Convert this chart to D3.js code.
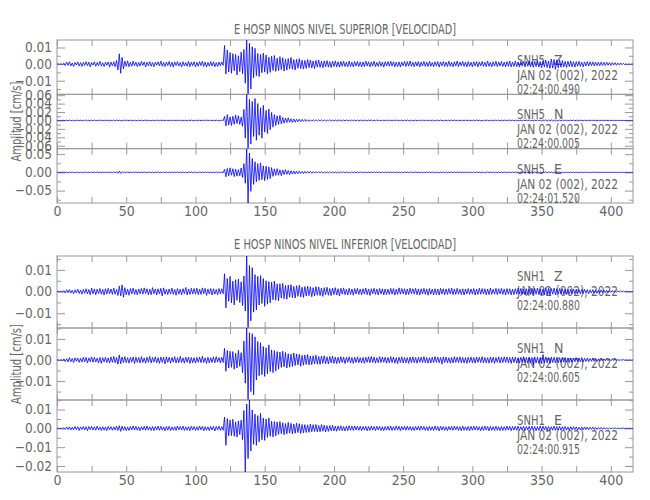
<!DOCTYPE html>
<html><head><meta charset="utf-8">
<script src="https://cdn.jsdelivr.net/npm/d3@7"></script>
<style>
body{margin:0;background:#fff}
svg{display:block}
text{font-family:"Liberation Sans Narrow","DejaVu Sans Condensed","Liberation Sans",sans-serif;fill:#666}
.axis text{font-size:13.5px}
.lab{font-size:14px}
</style>
</head><body>
<svg id="chart" width="650" height="500"></svg>
<script>
// ---- data (amplitudes in units of 1e-4 cm/s, one sample per second) ----
const DT = 1;
const UNIT = 1e-4;
const T_END = 416;
const groupTitles = ["E HOSP NINOS NIVEL SUPERIOR [VELOCIDAD]", "E HOSP NINOS NIVEL INFERIOR [VELOCIDAD]"];
const stations = ["SNH5", "SNH1"];
const components = ["Z", "N", "E"];
const dateLabel = "JAN 02 (002), 2022";
const startTimes = [["02:24:00.490", "02:24:00.005", "02:24:01.520"], ["02:24:00.880", "02:24:00.605", "02:24:00.915"]];
const yTitle = "Amplitud [cm/s]";
const xTickValues = [0, 50, 100, 150, 200, 250, 300, 350, 400];
const xMinorTicks = [25, 75, 125, 175, 225, 275, 325, 375];
const yMajorTicks = [
  [[-0.01, 0, 0.01], [-0.06, -0.04, -0.02, 0, 0.02, 0.04, 0.06], [-0.05, 0, 0.05]],
  [[-0.01, 0, 0.01], [-0.01, 0, 0.01], [-0.02, -0.01, 0, 0.01]]
];
const yMinorTicks = [
  [[-0.015, -0.005, 0.005], [-0.05, -0.03, -0.01, 0.01, 0.03, 0.05], [-0.075, -0.025, 0.025]],
  [[-0.015, -0.005, 0.005, 0.015], [-0.015, -0.005, 0.005, 0.015], [-0.015, -0.005, 0.005, 0.015]]
];

const snh5Z = [
0,1,-1,2,-3,6,-9,12,-8,14,-11,7,-15,10,-6,13,-12,9,-14,11,
-8,15,-10,12,-17,9,-6,14,-13,10,-9,16,-12,8,-15,11,-7,13,-18,12,
-10,14,-16,22,-35,62,-55,40,-28,18,-14,20,-16,11,-13,17,-9,12,-15,10,
-12,16,-8,13,-17,11,-10,15,-13,9,-16,12,-7,14,-11,18,-13,10,-15,12,
-9,16,-14,11,-18,13,-8,15,-12,10,-17,14,-11,9,-13,16,-15,12,-10,14,
-16,11,-13,15,-9,17,-14,12,-18,10,-12,15,-11,13,-16,9,-14,12,-10,13,
-8,112,-60,85,-48,70,-55,62,-40,58,-65,50,-45,72,-58,88,-115,145,-182,125,
-150,104,-82,95,-70,64,-75,58,-52,66,-48,55,-60,42,-50,47,-38,52,-44,36,
-40,45,-33,38,-42,30,-36,34,-28,40,-31,27,-35,29,-25,33,-27,24,-30,22,
-26,28,-21,25,-23,19,-27,22,-18,24,-20,17,-22,19,-16,21,-18,15,-20,17,
-15,19,-17,14,-18,16,-13,17,-15,12,-16,18,-14,11,-17,15,-12,16,-14,13,
-17,12,-15,18,-11,14,-16,13,-12,17,-15,10,-14,16,-13,12,-18,14,-11,15,
-13,17,-12,14,-16,11,-15,13,-17,12,-10,16,-14,15,-12,18,-13,11,-16,14,
-12,15,-17,13,-11,16,-14,12,-15,17,-13,10,-16,14,-12,15,-18,13,-11,16,
-14,12,-15,17,-13,11,-16,14,-12,18,-15,13,-11,16,-14,12,-17,15,-13,11,
-16,14,-12,15,-17,13,-11,16,-14,12,-15,18,-13,11,-16,14,-12,17,-15,13,
-11,16,-14,12,-17,15,-13,18,-16,12,-14,17,-15,13,-18,16,-12,14,-17,15,
-13,18,-16,14,-19,17,-15,20,-18,16,-22,19,-17,24,-21,18,-26,30,-24,28,
-32,26,-22,25,-19,21,-18,16,-20,17,-15,19,-16,14,-18,15,-13,17,-14,12,
-16,13,-11,15,-12,14,-10,13,-11,12,-9,11,-10,12,-8,10,-9,11,-7,9,
-8,9,-6,8,-7,6,-5,7,-4,5,-4,3,-3,2,-2,1,0
];
const snh5N = [
0,1,-1,2,-2,4,-6,5,-7,8,-5,6,-9,7,-4,8,-6,5,-8,7,
-9,12,-7,6,-10,8,-5,9,-7,6,-8,10,-6,5,-9,7,-6,8,-10,6,
-7,9,-5,8,-6,7,-9,6,-8,10,-7,5,-6,9,-8,7,-5,6,-9,8,
-6,7,-10,8,-5,9,-7,6,-8,5,-9,7,-6,10,-7,8,-5,6,-9,7,
-8,6,-7,9,-5,8,-10,7,-6,9,-8,5,-7,6,-9,8,-6,10,-7,5,
-8,7,-9,6,-5,8,-7,10,-6,9,-8,7,-5,6,-9,8,-7,6,-10,8,
-6,95,-130,140,-110,85,-120,100,-90,130,-75,110,-95,80,-140,260,-420,620,-670,500,
-560,450,-380,520,-470,400,-350,300,-420,360,-280,240,-310,270,-220,190,-160,140,-120,110,
-95,120,-80,70,-65,58,-50,62,-45,40,-48,36,-42,30,-35,28,-32,25,-22,24,
-20,18,-22,16,-19,17,-15,18,-14,16,-13,15,-17,12,-14,13,-11,15,-12,10,
-13,11,-10,12,-9,11,-13,10,-8,12,-11,9,-10,13,-9,8,-12,10,-11,9,
-8,10,-7,9,-11,8,-6,10,-9,7,-8,11,-7,6,-10,9,-8,7,-9,10,
-7,8,-10,6,-9,11,-8,7,-6,9,-10,8,-7,10,-6,8,-9,7,-11,8,
-9,7,-8,10,-6,9,-7,8,-10,6,-8,9,-11,7,-6,10,-8,9,-7,6,
-10,8,-7,9,-8,11,-6,7,-9,8,-10,6,-7,9,-8,10,-6,8,-9,7,
-8,9,-6,10,-7,8,-9,7,-11,9,-6,8,-10,7,-8,9,-7,10,-6,8,
-9,7,-10,8,-6,9,-8,11,-7,6,-9,8,-10,7,-8,6,-11,9,-7,8,
-6,10,-8,7,-9,8,-7,12,-10,9,-13,11,-9,14,-12,10,-11,13,-9,12,
-14,10,-12,9,-11,10,-8,9,-10,7,-9,8,-7,9,-8,6,-7,8,-6,7,
-8,6,-7,5,-6,7,-5,6,-4,5,-6,4,-5,6,-4,5,-3,4,-5,3,
-4,3,-3,4,-2,3,-2,2,-3,1,-2,2,-1,1,-1,1,0
];
const snh5E = [
0,1,-1,2,-3,5,-7,6,-9,8,-6,10,-8,7,-11,9,-7,8,-10,6,
-9,11,-8,7,-12,9,-6,10,-8,12,-9,7,-11,8,-10,9,-7,11,-9,8,
-10,12,-9,18,-28,35,-30,22,-15,12,-10,9,-12,8,-11,10,-7,9,-12,8,
-9,11,-7,10,-12,8,-9,11,-8,10,-13,9,-7,12,-10,8,-11,9,-8,10,
-12,9,-8,11,-10,7,-9,12,-11,8,-10,13,-9,7,-11,10,-8,12,-9,11,
-10,8,-12,9,-7,11,-10,13,-8,9,-11,10,-12,8,-9,11,-13,10,-8,9,
-11,85,-120,110,-95,125,-80,100,-115,90,-105,75,-95,120,-140,240,-300,650,-840,530,
-520,380,-330,290,-260,240,-220,260,-200,180,-230,170,-190,150,-170,130,-110,95,-85,100,
-80,70,-90,65,-60,75,-55,50,-62,45,-48,40,-44,36,-38,32,-30,28,-33,26,
-24,27,-21,23,-25,19,-22,20,-18,21,-17,19,-20,16,-18,17,-15,18,-16,14,
-15,13,-16,12,-14,15,-12,13,-11,14,-13,10,-12,13,-11,12,-14,10,-12,11,
-10,12,-9,11,-13,8,-11,10,-9,12,-8,11,-10,9,-12,10,-8,11,-9,12,
-11,9,-10,12,-8,11,-13,9,-10,8,-11,12,-9,10,-8,11,-12,9,-10,11,
-9,10,-12,8,-11,9,-10,12,-8,11,-9,10,-13,9,-11,8,-10,12,-9,10,
-12,11,-9,10,-8,12,-11,9,-10,13,-9,8,-11,10,-12,9,-8,11,-10,9,
-10,12,-8,11,-9,10,-12,9,-11,8,-10,12,-9,11,-8,10,-13,9,-11,10,
-9,11,-10,8,-12,10,-9,11,-8,12,-10,9,-11,10,-9,12,-8,11,-10,9,
-11,10,-9,12,-10,11,-8,13,-11,12,-14,10,-12,15,-11,13,-10,12,-11,10,
-13,11,-10,12,-9,10,-11,9,-10,8,-9,10,-8,9,-7,8,-9,7,-8,7,
-6,8,-7,6,-7,5,-6,7,-5,6,-5,4,-6,5,-4,5,-4,3,-4,3,
-3,4,-2,3,-3,2,-2,2,-1,2,-1,1,-1,1,-1,0,0
];
const snh1Z = [
0,1,-1,2,-2,4,-6,8,-5,9,-7,6,-10,8,-6,11,-9,7,-12,10,
-8,13,-11,9,-14,16,-10,12,-15,11,-9,14,-12,10,-16,13,-11,15,-10,12,
-13,16,-12,10,-18,25,-20,31,-26,18,-15,12,-17,14,-11,16,-13,10,-15,12,
-10,14,-12,17,-9,13,-15,11,-14,18,-10,12,-16,13,-11,15,-20,17,-12,10,
-14,12,-11,16,-13,10,-17,14,-12,11,-15,13,-10,19,-16,12,-13,15,-11,14,
-12,16,-14,11,-13,17,-10,15,-18,12,-11,14,-16,13,-12,10,-15,14,-11,13,
-10,82,-75,60,-45,70,-52,48,-62,55,-40,58,-50,45,-65,72,-90,164,-168,120,
-135,110,-95,78,-85,70,-62,74,-55,60,-68,50,-58,46,-52,44,-38,48,-40,35,
-42,36,-30,38,-33,28,-35,30,-26,32,-28,24,-30,27,-22,29,-25,20,-27,23,
-21,25,-19,22,-24,18,-20,23,-17,21,-19,16,-22,18,-15,20,-17,14,-19,16,
-14,18,-16,13,-20,15,-12,17,-14,11,-16,15,-13,12,-17,14,-11,15,-13,12,
-15,13,-11,16,-14,12,-18,13,-10,15,-13,12,-16,14,-11,13,-15,12,-14,11,
-13,15,-12,14,-16,11,-13,17,-12,14,-11,13,-15,12,-14,16,-10,13,-12,15,
-14,12,-16,13,-11,15,-13,12,-17,14,-12,11,-15,13,-14,12,-16,15,-11,13,
-15,12,-13,14,-11,16,-14,12,-13,15,-12,11,-14,13,-16,12,-11,14,-13,12,
-12,14,-16,11,-13,15,-12,14,-11,13,-15,12,-14,16,-13,11,-12,15,-14,13,
-11,15,-13,12,-16,14,-12,13,-15,11,-14,13,-12,15,-11,14,-13,12,-16,13,
-14,12,-13,15,-11,14,-12,16,-14,13,-15,12,-16,18,-13,15,-17,14,-12,16,
-15,13,-12,14,-11,13,-12,11,-13,10,-12,11,-10,12,-9,11,-10,9,-11,10,
-9,10,-8,9,-10,8,-7,9,-8,7,-8,6,-7,8,-6,7,-5,6,-5,4,
-4,5,-3,4,-3,3,-2,3,-2,2,-1,2,-1,1,-1,0,0
];
const snh1N = [
0,1,-1,2,-3,5,-7,6,-9,11,-8,7,-12,10,-6,9,-11,8,-10,13,
-9,12,-14,10,-8,15,-11,13,-10,9,-14,12,-16,11,-9,13,-12,10,-15,14,
-11,17,-13,12,-20,24,-18,14,-12,16,-13,11,-15,12,-10,14,-17,13,-11,12,
-14,16,-12,10,-15,13,-11,17,-14,12,-10,15,-13,11,-16,14,-12,13,-18,15,
-11,13,-15,12,-10,16,-14,11,-13,17,-12,10,-15,13,-11,14,-16,12,-13,11,
-15,12,-11,14,-13,18,-12,10,-16,13,-14,11,-12,15,-13,16,-10,12,-14,13,
-12,55,-53,45,-38,42,-35,40,-44,32,-38,46,-30,35,-60,90,-110,152,-190,130,
-150,125,-165,110,-95,88,-75,82,-70,64,-78,58,-66,72,-55,48,-60,45,-52,40,
-44,38,-35,42,-32,36,-38,30,-34,28,-31,33,-26,29,-24,27,-30,22,-25,24,
-21,26,-23,19,-22,20,-18,23,-20,17,-21,19,-16,20,-18,15,-19,17,-14,18,
-16,14,-17,13,-15,16,-12,14,-17,13,-11,15,-14,12,-16,13,-12,15,-13,11,
-14,12,-16,13,-11,15,-13,17,-12,14,-15,11,-13,16,-12,14,-11,13,-15,12,
-13,16,-12,14,-15,11,-17,13,-12,15,-14,12,-13,11,-16,14,-12,15,-13,12,
-15,13,-11,14,-12,16,-13,12,-15,11,-14,13,-12,16,-11,14,-13,12,-20,15,
-12,14,-13,11,-15,12,-14,16,-11,13,-12,15,-13,12,-14,11,-16,13,-12,14,
-13,12,-15,14,-11,13,-12,16,-14,12,-13,11,-15,14,-12,13,-16,12,-11,15,
-14,13,-12,15,-11,14,-13,12,-16,14,-12,13,-15,11,-14,13,-12,16,-13,12,
-15,14,-13,12,-22,15,-14,13,-16,12,-17,26,-14,15,-13,12,-16,14,-12,13,
-14,12,-13,11,-12,13,-10,12,-11,10,-12,9,-11,10,-9,11,-8,10,-9,8,
-9,8,-7,9,-8,7,-6,8,-7,6,-6,5,-6,5,-4,5,-4,4,-3,4,
-3,3,-2,3,-2,2,-2,1,-1,2,-1,1,-1,1,0,0,0
];
const snh1E = [
0,1,-1,1,-2,4,-5,7,-6,8,-9,6,-8,10,-7,9,-11,8,-6,10,
-8,9,-12,10,-7,11,-9,8,-10,12,-8,7,-11,9,-10,8,-12,11,-7,9,
-10,8,-9,12,-11,14,-16,12,-10,9,-12,8,-11,10,-8,13,-9,11,-10,8,
-12,9,-8,11,-10,13,-9,8,-11,10,-12,9,-8,12,-10,11,-9,8,-13,10,
-9,11,-12,8,-10,9,-11,13,-8,10,-9,12,-11,8,-10,9,-12,11,-8,10,
-11,9,-10,12,-8,11,-13,9,-10,8,-12,10,-9,11,-14,10,-8,12,-11,9,
-10,60,-90,52,-40,45,-38,48,-42,35,-46,40,-33,44,-60,95,-232,130,-160,151,
-120,98,-85,76,-90,68,-72,80,-60,55,-64,50,-48,56,-42,38,-45,36,-40,34,
-32,36,-28,30,-34,26,-29,32,-25,27,-30,23,-26,28,-22,25,-27,21,-24,20,
-22,19,-21,23,-18,20,-17,21,-19,16,-18,20,-15,17,-19,14,-16,15,-13,17,
-14,12,-15,13,-11,14,-12,10,-13,11,-12,14,-10,12,-11,13,-9,12,-10,11,
-12,10,-9,11,-13,10,-11,12,-9,10,-12,11,-8,10,-11,9,-12,10,-9,11,
-10,12,-11,9,-10,13,-9,11,-12,10,-8,11,-10,12,-9,10,-11,9,-12,10,
-9,11,-10,12,-8,10,-11,9,-12,11,-10,9,-11,12,-9,10,-13,11,-9,10,
-11,9,-12,10,-9,11,-10,12,-8,10,-11,9,-12,13,-10,9,-11,10,-12,11,
-10,12,-9,11,-10,9,-12,10,-11,12,-9,10,-13,11,-10,9,-11,12,-10,9,
-12,10,-11,9,-10,12,-9,11,-12,10,-9,11,-10,12,-11,9,-10,11,-12,10,
-9,11,-10,12,-11,10,-12,9,-11,13,-10,12,-9,11,-12,10,-11,9,-10,12,
-11,10,-9,11,-10,9,-8,10,-9,8,-10,9,-8,9,-7,8,-9,7,-8,7,
-7,8,-6,7,-7,6,-5,7,-6,5,-6,5,-4,5,-5,4,-4,3,-4,3,
-3,3,-2,3,-2,2,-2,1,-1,2,-1,1,-1,1,0,0,0
];
const traces = [[snh5Z, snh5N, snh5E], [snh1Z, snh1N, snh1E]];

// ---- layout ----
const X0 = 57, X1 = 633;
const layout = [{top: 40, bottom: 203, titleY: 34}, {top: 256, bottom: 472, titleY: 249}];
const AXIS_COLOR = "#999";

const svg = d3.select("#chart");
const defs = svg.append("defs");
const x = d3.scaleLinear().domain([0, T_END]).range([X0, X1]);
const fmt = d3.format(".2f");

function clean(g) { g.select(".domain").remove(); g.style("color", AXIS_COLOR); return g; }

layout.forEach((L, gi) => {
  svg.append("text").attr("class", "lab")
    .attr("x", (X0 + X1) / 2).attr("y", L.titleY)
    .attr("text-anchor", "middle").attr("textLength", 222).attr("lengthAdjust", "spacingAndGlyphs")
    .text(groupTitles[gi]);

  const ph = (L.bottom - L.top) / components.length;
  components.forEach((comp, ci) => {
    const y0 = L.top + ci * ph, y1 = y0 + ph;
    const data = traces[gi][ci];
    const ext = d3.extent(data, v => v * UNIT);
    const y = d3.scaleLinear().domain(ext).range([y1, y0]);
    const inDom = t => t >= ext[0] - 1e-9 && t <= ext[1] + 1e-9;
    const maj = yMajorTicks[gi][ci].filter(inDom);
    const mnr = yMinorTicks[gi][ci].filter(inDom);

    const ax = svg.append("g").attr("class", "axis");
    clean(ax.append("g").attr("transform", `translate(${X0},0)`)
      .call(d3.axisLeft(y).tickValues(maj).tickSize(-8).tickPadding(5).tickFormat(fmt)));
    clean(ax.append("g").attr("transform", `translate(${X0},0)`)
      .call(d3.axisLeft(y).tickValues(mnr).tickSize(-4).tickFormat("")));
    clean(ax.append("g").attr("transform", `translate(${X1},0)`)
      .call(d3.axisRight(y).tickValues(maj).tickSize(-8).tickFormat("")));
    clean(ax.append("g").attr("transform", `translate(${X1},0)`)
      .call(d3.axisRight(y).tickValues(mnr).tickSize(-4).tickFormat("")));
    clean(ax.append("g").attr("transform", `translate(0,${y0})`)
      .call(d3.axisTop(x).tickValues(xTickValues.concat(xMinorTicks)).tickSize(-6).tickFormat("")));
    const isLast = ci === components.length - 1;
    clean(ax.append("g").attr("transform", `translate(0,${y1})`)
      .call(d3.axisBottom(x).tickValues(xTickValues.concat(xMinorTicks)).tickSize(-6).tickFormat("")));
    if (isLast) {
      clean(ax.append("g").attr("transform", `translate(0,${y1})`)
        .call(d3.axisBottom(x).tickValues(xTickValues).tickSize(0).tickPadding(3).tickFormat(d3.format("d"))))
        .selectAll("text").style("font-size", "14px");
    }
    svg.append("rect").attr("x", X0).attr("y", y0).attr("width", X1 - X0).attr("height", ph)
      .attr("fill", "none").attr("stroke", AXIS_COLOR).attr("stroke-width", 1);

    const tx = 517;
    svg.append("text").attr("class", "lab").attr("x", tx).attr("y", y0 + 25)
      .attr("textLength", 28).attr("lengthAdjust", "spacingAndGlyphs").text(stations[gi]);
    svg.append("text").attr("class", "lab").attr("x", tx + 37).attr("y", y0 + 25).text(comp);
    svg.append("text").attr("class", "lab").attr("x", tx).attr("y", y0 + 40)
      .attr("textLength", 101).attr("lengthAdjust", "spacingAndGlyphs").text(dateLabel);
    svg.append("text").attr("class", "lab").attr("x", tx).attr("y", y0 + 54)
      .attr("textLength", 63).attr("lengthAdjust", "spacingAndGlyphs").text(startTimes[gi][ci]);

    const id = `clip${gi}${ci}`;
    defs.append("clipPath").attr("id", id).append("rect")
      .attr("x", X0).attr("y", y0).attr("width", X1 - X0).attr("height", ph);
    svg.append("path").datum(data)
      .attr("clip-path", `url(#${id})`)
      .attr("fill", "none").attr("stroke", "#0000ff").attr("stroke-width", 0.8)
      .attr("d", d3.line().x((v, i) => x(i * DT)).y(v => y(v * UNIT)));
  });

  const cy = (L.top + L.bottom) / 2;
  svg.append("text").attr("class", "lab")
    .attr("transform", `translate(21,${cy}) rotate(-90)`)
    .attr("text-anchor", "middle").attr("textLength", 80).attr("lengthAdjust", "spacingAndGlyphs")
    .text(yTitle);
});
</script>
</body></html>
